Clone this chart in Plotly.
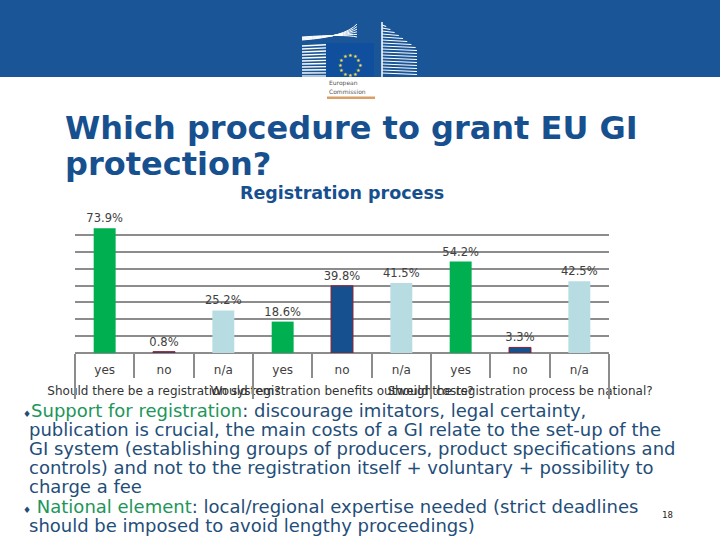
import math
import plotly.graph_objects as go

# ---------------- data ----------------
groups = [
    "Should there be a registration system?",
    "Would registration benefits outweigh costs?",
    "Should the registration process be national?",
]
answers = ["yes", "no", "n/a"]
values = [73.9, 0.8, 25.2, 18.6, 39.8, 41.5, 54.2, 3.3, 42.5]

answer_colors = {"yes": "#00B050", "no": "#17508F", "n/a": "#B7DDE3"}
answer_lines = {"yes": "#00B050", "no": "#8B2232", "n/a": "#B7DDE3"}

title_lines = ["Which procedure to grant EU GI", "protection?"]
chart_title = "Registration process"
bullet_lines = [
    "<span style='font-size:9px'>♦</span><span style='color:#21965A'>Support for registration</span>: discourage imitators, legal certainty,",
    "publication is crucial, the main costs of a GI relate to the set-up of the",
    "GI system (establishing groups of producers, product specifications and",
    "controls) and not to the registration itself + voluntary + possibility to",
    "charge a fee",
    "<span style='font-size:9px'>♦</span> <span style='color:#21965A'>National element</span>: local/regional expertise needed (strict deadlines",
    "should be imposed to avoid lengthy proceedings)",
]
page_number = "18"

# ---------------- helpers ----------------
W, H = 720, 540
def px(x):
    return x / W
def py(y):
    return 1 - y / H

x_answers = [a for _ in groups for a in answers]
n = len(x_answers)
k = len(answers)
positions = list(range(n))
colors = [answer_colors[a] for a in x_answers]
line_colors = [answer_lines[a] for a in x_answers]
line_widths = [1 if a == "no" else 0 for a in x_answers]
group_centers = [g * k + (k - 1) / 2 for g in range(len(groups))]
group_bounds = [g * k - 0.5 for g in range(len(groups) + 1)]
cat_bounds = [i - 0.5 for i in range(n + 1)]

GRID = "#8C8C8C"
BLUE_TXT = "#17508F"
BODY = "#1F4E79"
LBL = "#404040"

fig = go.Figure()
fig.add_trace(go.Bar(
    x=positions, y=values,
    marker=dict(color=colors, line=dict(color=line_colors, width=line_widths)),
    texttemplate="%{y:.1f}%", textposition="outside", constraintext="none",
    textfont=dict(family="DejaVu Sans", size=11.5, color=LBL),
    cliponaxis=False, showlegend=False, hoverinfo="y",
))
# helper traces that register the overlay axes
for ax in ["x2", "x3", "x4"]:
    fig.add_trace(go.Scatter(x=[None], y=[None], xaxis=ax, yaxis="y",
                             showlegend=False, hoverinfo="skip"))

xdom = [px(75), px(609)]
ydom = [py(353), py(218)]
xrange_ = [-0.5, n - 0.5]

common = dict(domain=xdom, anchor="y", automargin=False, range=xrange_,
              showgrid=False, zeroline=False, showline=False, tickangle=0,
              tickmode="array")

fig.update_layout(
    width=W, height=H, autosize=False,
    margin=dict(l=0, r=0, t=0, b=0, pad=0),
    paper_bgcolor="white", plot_bgcolor="white",
    bargap=0.63,
    xaxis=dict(**common, tickvals=positions, ticktext=x_answers, ticks="",
               ticklabelstandoff=8,
               tickfont=dict(family="DejaVu Sans", size=12, color=LBL)),
    xaxis2=dict(**common, overlaying="x", tickvals=cat_bounds,
                ticks="outside", ticklen=24, tickwidth=2, tickcolor=GRID,
                showticklabels=False),
    xaxis3=dict(**common, overlaying="x", tickvals=group_centers, ticktext=groups,
                ticks="", ticklabelstandoff=29,
                tickfont=dict(family="DejaVu Sans", size=12, color="#333333")),
    xaxis4=dict(**common, overlaying="x", tickvals=group_bounds,
                ticks="outside", ticklen=45, tickwidth=2, tickcolor=GRID,
                showticklabels=False),
    yaxis=dict(
        domain=ydom, range=[0, 80], dtick=10, automargin=False,
        showgrid=True, gridcolor=GRID, gridwidth=2,
        zeroline=True, zerolinecolor=GRID, zerolinewidth=2,
        showticklabels=False, ticks="", showline=False,
    ),
)

shapes = []
# top band
shapes.append(dict(type="rect", xref="paper", yref="paper", x0=0, x1=1,
                   y0=py(77), y1=1, fillcolor="#195597", line_width=0, layer="below"))
# left building stripes
for i in range(12):
    y = 76 - 3 * i
    if y > 43:
        shapes.append(dict(type="line", xref="paper", yref="paper",
                           x0=px(302), x1=px(326), y0=py(y), y1=py(y - 1.5 * (i / 12)),
                           line=dict(color="white", width=1.3)))
for i in range(6):
    y0 = 40 - 0.6 * i
    shapes.append(dict(type="path", xref="paper", yref="paper",
                       path=f"M {px(302)},{py(y0)} Q {px(345)},{py(y0 - 3)} {px(357)},{py(24 + 2.6 * i)}",
                       line=dict(color="white", width=1)))
# right building stripes
for i in range(17):
    y = 25 + 3 * i
    xe = min(417, 382 + (y - 22) * 35 / 25)
    shapes.append(dict(type="line", xref="paper", yref="paper",
                       x0=px(382), x1=px(xe), y0=py(y), y1=py(y + 1.5),
                       line=dict(color="white", width=1.2)))
shapes.append(dict(type="line", xref="paper", yref="paper",
                   x0=px(382), x1=px(382), y0=py(22), y1=py(77),
                   line=dict(color="white", width=1.5)))
# flag
shapes.append(dict(type="rect", xref="paper", yref="paper",
                   x0=px(326), x1=px(374), y0=py(77), y1=py(43),
                   fillcolor="#104E9E", line=dict(color="#104E9E", width=0)))
# orange line under logo
shapes.append(dict(type="rect", xref="paper", yref="paper",
                   x0=px(327), x1=px(375), y0=py(99), y1=py(96.5),
                   fillcolor="#D9A066", line_width=0))

annotations = []
for s in range(12):
    ang = 2 * math.pi * s / 12
    sx = 350 + 10 * math.cos(ang)
    sy = 60 + 10 * math.sin(ang)
    annotations.append(dict(x=px(sx), y=py(sy), xref="paper", yref="paper",
                            text="★", showarrow=False,
                            font=dict(size=5, color="#F2E14C")))
annotations.append(dict(x=px(327), y=py(83), xref="paper", yref="paper", text="European",
                        showarrow=False, xanchor="left", yanchor="middle",
                        font=dict(family="DejaVu Sans", size=6, color="#555555")))
annotations.append(dict(x=px(327), y=py(91), xref="paper", yref="paper", text="Commission",
                        showarrow=False, xanchor="left", yanchor="middle",
                        font=dict(family="DejaVu Sans", size=6, color="#555555")))
# title
for t, yc in zip(title_lines, [128, 164]):
    annotations.append(dict(x=px(63), y=py(yc), xref="paper", yref="paper", text=f"<b>{t}</b>",
                            showarrow=False, xanchor="left", yanchor="middle",
                            font=dict(family="DejaVu Sans", size=32, color=BLUE_TXT)))
annotations.append(dict(x=px(342), y=py(193), xref="paper", yref="paper",
                        text=f"<b>{chart_title}</b>", showarrow=False,
                        xanchor="center", yanchor="middle",
                        font=dict(family="DejaVu Sans", size=17.5, color=BLUE_TXT)))
# bullets
for i, t in enumerate(bullet_lines):
    yc = 410 + 19.2 * i
    x0 = 21 if t.startswith("<span") else 27
    annotations.append(dict(x=px(x0), y=py(yc), xref="paper", yref="paper", text=t,
                            showarrow=False, xanchor="left", yanchor="middle",
                            font=dict(family="DejaVu Sans", size=18, color=BODY)))
annotations.append(dict(x=px(667), y=py(515), xref="paper", yref="paper", text=page_number,
                        showarrow=False, xanchor="center", yanchor="middle",
                        font=dict(family="DejaVu Sans Mono", size=9, color="#222222")))

fig.update_layout(shapes=shapes, annotations=annotations)
fig.write_html("out.html", config={"displayModeBar": False},
               post_script="document.body.style.margin='0';")
